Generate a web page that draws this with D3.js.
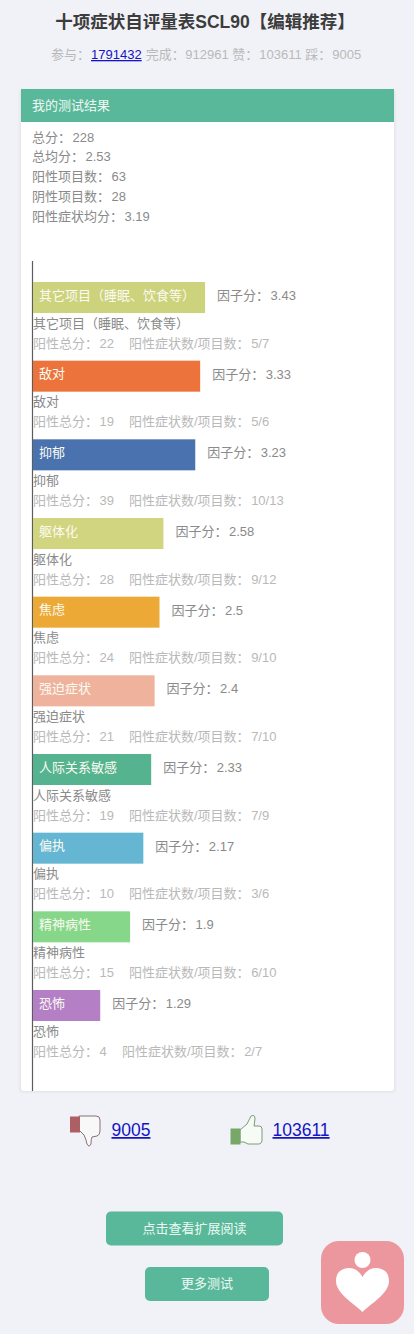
<!DOCTYPE html>
<html><head><meta charset="utf-8">
<script src="https://cdn.jsdelivr.net/npm/d3@7/dist/d3.min.js"></script>
<style>html,body{margin:0;padding:0;background:#f1f2f7;overflow:hidden}svg{display:block}
text{font-family:"Liberation Sans","Noto Sans CJK SC",sans-serif}</style></head><body>
<svg id="c" width="414" height="1334"></svg>
<script>
const categories=["其它项目（睡眠、饮食等）","敌对","抑郁","躯体化","焦虑","强迫症状","人际关系敏感","偏执","精神病性","恐怖"];
const factorScores=[3.43,3.33,3.23,2.58,2.5,2.4,2.33,2.17,1.9,1.29];
const positiveTotals=[22,19,39,28,24,21,19,10,15,4];
const symptomRatios=["5/7","5/6","10/13","9/12","9/10","7/10","7/9","3/6","6/10","2/7"];
const barColors=["#cdd27c","#ec743c","#4a72ae","#d2d57f","#eca936","#eeb29d","#55b48f","#65b6d2","#87d78b","#b57fc6"];
const summaryLabels=["总分：","总均分：","阳性项目数：","阴性项目数：","阳性症状均分："];
const summaryValues=["228","2.53","63","28","3.19"];
const statLabels=["参与：","完成：","赞：","踩："];
const statValues=["1791432","912961","103611","9005"];

const svg=d3.select("#c");
const gray="#8a8a8a",light="#b9b9b9",link="#1414c4";
function T(x,y,s,size,fill,anchor,weight){return svg.append("text").attr("x",x).attr("y",y).attr("font-size",size).attr("fill",fill).attr("text-anchor",anchor||"start").attr("font-weight",weight||400).text(s);}
function V(sel,fn,dx){sel.append("tspan").attr("dx",dx).text(fn);}

T(205,28,"十项症状自评量表SCL90【编辑推荐】",17.5,"#3c3c3c","middle",700);
const sub=T(51,59,statLabels[0],13,light);
sub.append("tspan").attr("dx",1).attr("fill",link).attr("text-decoration","underline").text(statValues[0]);
sub.append("tspan").attr("dx",0.5).text(" "+statLabels[1]);
sub.append("tspan").attr("dx",0.5).text(statValues[1]+" "+statLabels[2]);
sub.append("tspan").attr("dx",1).text(statValues[2]+" "+statLabels[3]);
sub.append("tspan").attr("dx",1).text(statValues[3]);

// card
const defs=svg.append("defs");
defs.append("filter").attr("id","sh").attr("x","-5%").attr("y","-5%").attr("width","110%").attr("height","110%").append("feGaussianBlur").attr("stdDeviation",1.5);
svg.append("rect").attr("x",20).attr("y",90).attr("width",375).attr("height",1002).attr("rx",3).attr("fill","#dfe0e6").attr("filter","url(#sh)");
svg.append("rect").attr("x",21).attr("y",89).attr("width",373).attr("height",1002).attr("rx",3).attr("fill","#fff");
svg.append("rect").attr("x",21).attr("y",89).attr("width",373).attr("height",33).attr("fill","#5ab89a");
T(32,110,"我的测试结果",13,"#eef8f4");
summaryLabels.forEach((l,i)=>{V(T(32,141.5+i*19.9,l,13,gray),summaryValues[i],1.5);});

// chart
const x=d3.scaleLinear().domain([0,4]).range([37,233]);
const y=d3.scalePoint().domain(categories).range([282,990]);
const bh=31,x0=33;
svg.append("line").attr("x1",32.5).attr("x2",32.5).attr("y1",261).attr("y2",1091).attr("stroke","#5c5c5c").attr("stroke-width",1.2);
const g=svg.selectAll("g.row").data(categories).join("g").attr("class","row").attr("transform",d=>`translate(0,${y(d)})`);
g.append("rect").attr("x",x0).attr("y",0).attr("height",bh).attr("width",(d,i)=>x(factorScores[i])-x0).attr("fill",(d,i)=>barColors[i]);
g.append("text").attr("x",39).attr("y",17.5).attr("font-size",13).attr("fill","#fbfbf2").text(d=>d);
const fs=g.append("text").attr("x",(d,i)=>x(factorScores[i])+12).attr("y",18).attr("font-size",13).attr("fill",gray).text("因子分：");
V(fs,(d,i)=>factorScores[i],1.5);
const pt=g.append("text").attr("x",33).attr("y",65.5).attr("font-size",13).attr("fill",light).text("阳性总分：");
V(pt,(d,i)=>positiveTotals[i],1.5);
const sr=g.append("text").attr("x",(d,i)=>positiveTotals[i]<10?122:129).attr("y",65.5).attr("font-size",13).attr("fill",light).text("阳性症状数/项目数：");
V(sr,(d,i)=>symptomRatios[i],1.5);
g.append("text").attr("x",33).attr("y",45.5).attr("font-size",13).attr("fill",gray).text(d=>d);

// thumbs
const down=svg.append("g").attr("transform","translate(70,1115)");
down.append("path").attr("d","M9 1H26Q30 1 30 5V16Q30 20 27 21L22 22Q21 24 21 29Q19 33 17 29Q16 24 14 20L9 15Z").attr("fill","#f8f8f8").attr("stroke","#8a7074").attr("stroke-width",1);
down.append("rect").attr("x",0).attr("y",1.5).attr("width",10).attr("height",16).attr("fill","#ad5f63");
T(111.5,1136,"9005",17.5,link).attr("text-decoration","underline");
const up=svg.append("g").attr("transform","translate(230,1115)");
up.append("path").attr("d","M10 15L17 9L21 1Q25 -1 25 4L24 11H29Q32 11 32 14V26Q31 29 29 29H18L14 27H10Z").attr("fill","#f7fbf5").attr("stroke","#7d9a78").attr("stroke-width",1);
up.append("rect").attr("x",0.5).attr("y",13.5).attr("width",10).attr("height",16).attr("fill","#77a869");
T(272.5,1136,"103611",17.5,link).attr("text-decoration","underline");

// buttons
svg.append("rect").attr("x",106).attr("y",1211.5).attr("width",177).attr("height",34).attr("rx",5).attr("fill","#5ab89a");
T(194.5,1233,"点击查看扩展阅读",13,"#eef8f4","middle");
svg.append("rect").attr("x",145).attr("y",1267).attr("width",124).attr("height",34).attr("rx",5).attr("fill","#5ab89a");
T(207,1288,"更多测试",13,"#eef8f4","middle");

// logo
const lg=svg.append("g").attr("transform","translate(321,1241)");
lg.append("rect").attr("width",83).attr("height",83).attr("rx",18).attr("fill","#ec979d");
lg.append("circle").attr("cx",41.5).attr("cy",19).attr("r",8).attr("fill","#fff");
lg.append("path").attr("d","M41.5 71C32 62 15 52 15 40C15 30 22 27 28 27C34 27 39 31 41.5 36C44 31 49 27 55 27C61 27 68 30 68 40C68 52 51 62 41.5 71Z").attr("fill","#fff");
</script></body></html>
